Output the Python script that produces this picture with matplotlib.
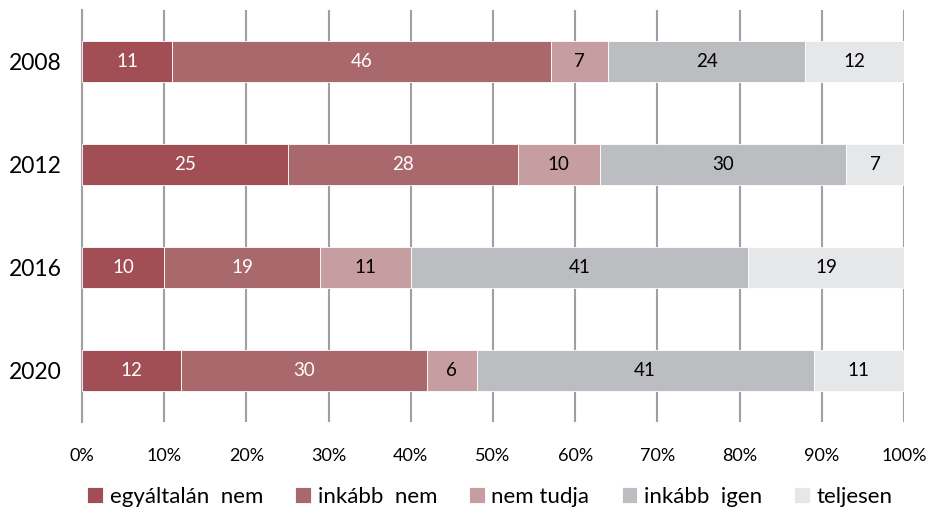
import numpy as np
import matplotlib
matplotlib.use('Agg')
import matplotlib.pyplot as plt

plt.rcParams['font.family'] = ['Lato', 'DejaVu Sans']

years = ['2008', '2012', '2016', '2020']
categories = ['egyáltalán  nem', 'inkább  nem', 'nem tudja', 'inkább  igen', 'teljesen']
values = np.array([[11, 46, 7, 24, 12],
                   [25, 28, 10, 30, 7],
                   [10, 19, 11, 41, 19],
                   [12, 30, 6, 41, 11]])
colors = ['#a14e55', '#a9686b', '#c69ea1', '#bcbdc0', '#e6e7e9']
label_colors = ['white', 'white', 'black', 'black', 'black']

fig = plt.figure(figsize=(9.32, 5.15), dpi=100)
ax = fig.add_axes([82/932, 1 - 422/515, 822/932, 412/515])

y = np.arange(len(years))
left = np.zeros(len(years))
for j, cat in enumerate(categories):
  vals = values[:, j]
  bars = ax.barh(y, vals, left=left, height=0.39, color=colors[j],
                 edgecolor='white', linewidth=0.6, label=cat, zorder=3)
  for i, v in enumerate(vals):
    ax.text(left[i] + v / 2, y[i], str(v), ha='center', va='center',
            color=label_colors[j], fontsize=13.5, zorder=4)
  left += vals

ax.set_xlim(0, 100)
ax.set_ylim(3.5, -0.5)
ax.set_xticks(np.arange(0, 101, 10))
ax.set_xticklabels(['%d%%' % t for t in range(0, 101, 10)], fontsize=13)
ax.set_yticks(y)
ax.set_yticklabels(years, fontsize=16.5)
ax.tick_params(axis='both', length=0)
ax.tick_params(axis='x', pad=19)
ax.tick_params(axis='y', pad=14.5)
ax.xaxis.grid(True, color='#a0a0a4', linewidth=1.5, zorder=0)
for s in ['top', 'right', 'bottom']:
  ax.spines[s].set_visible(False)
ax.spines['left'].set_color('#a0a0a4')
ax.spines['left'].set_linewidth(1.5)

fig.legend(loc='center', bbox_to_anchor=(490/932, 1 - 497/515), ncol=5,
           frameon=False, fontsize=16, handlelength=0.7, handleheight=0.7,
           handletextpad=0.3, columnspacing=1.45)

fig.savefig('out.png', dpi=100)
